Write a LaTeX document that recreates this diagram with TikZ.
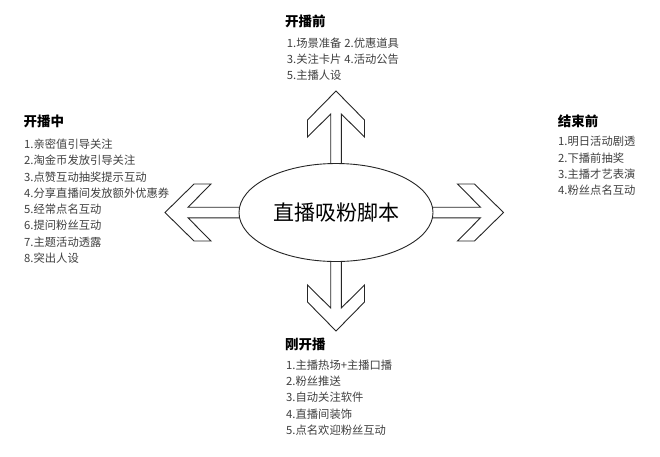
\documentclass[tikz,border=0pt]{standalone}
\usepackage{fontspec}
\setmainfont{Noto Sans CJK SC}
\usetikzlibrary{shapes.geometric}
\newcommand\blockarrow[2]{%
  \draw[arrowline, shift={(ctr)}, rotate=#1]
    (0,5.3) -- (#2-23,5.3) -- (#2-46,28.5) -- (#2-29,28.5) -- (#2,0)
    -- (#2-29,-28.5) -- (#2-46,-28.5) -- (#2-23,-5.3) -- (0,-5.3);}
\begin{document}
\begin{tikzpicture}[x=1pt,y=-1pt,
  arrowline/.style={draw=black!85, line width=0.9pt, line join=miter},
  ttl/.style={font=\fontsize{13.5}{16}\selectfont\bfseries, anchor=base west, inner sep=0pt},
  lst/.style={font=\fontsize{11.3}{16.25}\selectfont, text=black!75, anchor=base west, inner sep=0pt, align=left}]
\useasboundingbox[fill=white] (0,0) rectangle (660,456);
\coordinate (ctr) at (336,212.5);
\blockarrow{0}{167.5}
\blockarrow{180}{171}
\blockarrow{90}{121.5}
\blockarrow{-90}{118.5}
\node[draw=black!85, line width=0.9pt, fill=white, ellipse, minimum width=194pt,
  minimum height=98pt, inner sep=0pt, font=\fontsize{21}{21}\selectfont] (core) at (ctr) {直播吸粉脚本};
% top (anchored at the baseline of the last line)
\node[ttl] (t1) at (285,26.7) {开播前};
\node[lst] (l1) at (286.7,79.5) {\makebox[57.5pt][l]{1.场景准备}2.优惠道具\\\makebox[57.5pt][l]{3.关注卡片}4.活动公告\\5.主播人设};
% left
\node[ttl] (t2) at (23.3,126.7) {开播中};
\node[lst] (l2) at (24,262.4) {1.亲密值引导关注\\2.淘金币发放引导关注\\3.点赞互动抽奖提示互动\\4.分享直播间发放额外优惠券\\5.经常点名互动\\6.提问粉丝互动\\7.主题活动透露\\8.突出人设};
% right
\node[ttl] (t3) at (557.7,126.7) {结束前};
\node[lst] (l3) at (558,194.5) {1.明日活动剧透\\2.下播前抽奖\\3.主播才艺表演\\4.粉丝点名互动};
% bottom
\node[ttl] (t4) at (285,349) {刚开播};
\node[lst] (l4) at (286,434.3) {1.主播热场+主播口播\\2.粉丝推送\\3.自动关注软件\\4.直播间装饰\\5.点名欢迎粉丝互动};
\end{tikzpicture}
\end{document}
